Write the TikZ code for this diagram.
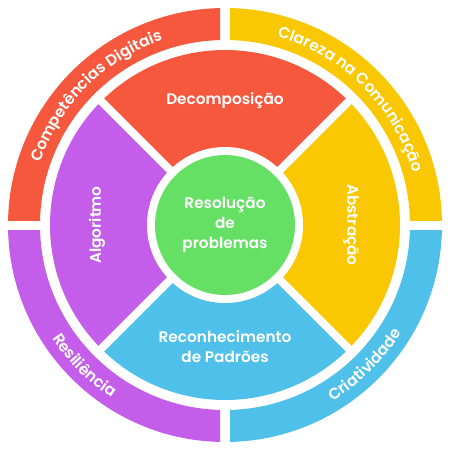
\documentclass[tikz,border=0pt]{standalone}
\usepackage{fontspec}
\setmainfont{Poppins}[BoldFont={* SemiBold}]
\usetikzlibrary{decorations.text,calc}
\definecolor{cred}{HTML}{F6583E}
\definecolor{cyellow}{HTML}{F9C802}
\definecolor{cblue}{HTML}{4FC0EA}
\definecolor{cpurple}{HTML}{C45EEA}
\definecolor{cgreen}{HTML}{65E065}
\newcommand{\ringfont}{\fontsize{15.5}{17}\selectfont\bfseries\color{white}}
\tikzset{
  slicetxt/.style={text=white,font=\fontsize{15.3}{20}\selectfont\bfseries,align=center,inner sep=0pt},
  ringseg/.style={even odd rule},
  sep/.style={white,line width=8pt},
  ringtxt/.style={decorate,decoration={text along path,text align=center,text={|\ringfont|#1}}}
}
\begin{document}
\begin{tikzpicture}[x=1pt,y=1pt]
\useasboundingbox (0,0) rectangle (457,448);
\coordinate (C) at (225,223);
% outer ring
\begin{scope}
\clip (0,228) rectangle (220,448);
\fill[cred,ringseg] (C) circle[radius=217] (C) circle[radius=185];
\end{scope}
\begin{scope}
\clip (230,228) rectangle (457,448);
\fill[cyellow,ringseg] (C) circle[radius=217] (C) circle[radius=185];
\end{scope}
\begin{scope}
\clip (0,0) rectangle (220,218);
\fill[cpurple,ringseg] (C) circle[radius=217] (C) circle[radius=185];
\end{scope}
\begin{scope}
\clip (230,0) rectangle (457,218);
\fill[cblue,ringseg] (C) circle[radius=217] (C) circle[radius=185];
\end{scope}
% pie
\fill[cred] (C) -- ([shift={(45:175)}]C) arc[start angle=45,end angle=135,radius=175] -- cycle;
\fill[cpurple] (C) -- ([shift={(135:175)}]C) arc[start angle=135,end angle=225,radius=175] -- cycle;
\fill[cblue] (C) -- ([shift={(225:175)}]C) arc[start angle=225,end angle=315,radius=175] -- cycle;
\fill[cyellow] (C) -- ([shift={(315:175)}]C) arc[start angle=315,end angle=405,radius=175] -- cycle;
\draw[sep] ([shift={(45:180)}]C) -- ([shift={(225:180)}]C);
\draw[sep] ([shift={(135:180)}]C) -- ([shift={(315:180)}]C);
\fill[white] (C) circle[radius=78];
\fill[cgreen] (C) circle[radius=70];
% texts
\node[slicetxt] (res) at (C) {Resolução\\de\\problemas};
\node[slicetxt] (dec) at ([shift={(0,124)}]C) {Decomposição};
\node[slicetxt,rotate=-90] (abs) at ([shift={(126,0)}]C) {Abstração};
\node[slicetxt,rotate=90] (alg) at ([shift={(-128,0)}]C) {Algoritmo};
\node[slicetxt] (rec) at ([shift={(0,-122)}]C) {Reconhecimento\\de Padrões};
% ring texts
\path[ringtxt={Competências Digitais}] ([shift={(180:195)}]C) arc[start angle=180,end angle=90,radius=195];
\path[ringtxt={Clareza na Comunicação}] ([shift={(90:195)}]C) arc[start angle=90,end angle=0,radius=195];
\path[ringtxt={Resiliência}] ([shift={(180:206.5)}]C) arc[start angle=180,end angle=270,radius=206.5];
\path[ringtxt={Criatividade}] ([shift={(270:206.5)}]C) arc[start angle=270,end angle=360,radius=206.5];
\end{tikzpicture}
\end{document}
